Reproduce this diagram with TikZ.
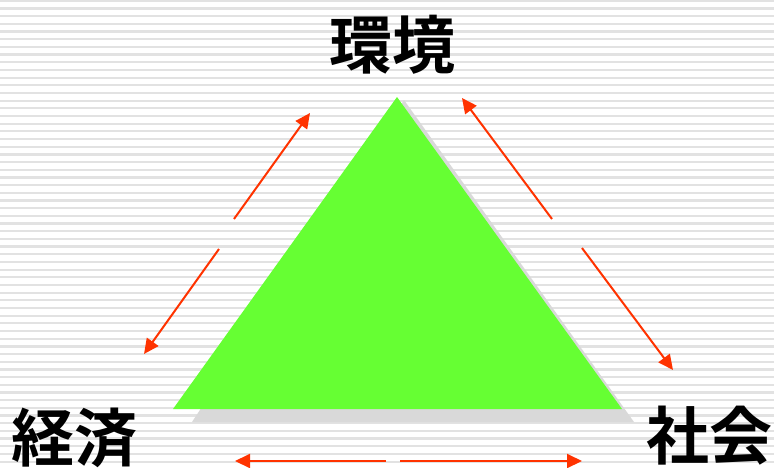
\documentclass[tikz,border=0pt]{standalone}
\usepackage{fontspec}
\newfontfamily\cjk{Noto Sans CJK JP}[BoldFont={Noto Sans CJK JP Bold}]
\usetikzlibrary{arrows.meta}
\definecolor{tri}{HTML}{66FF33}
\definecolor{shad}{HTML}{D9D9D9}
\definecolor{arr}{HTML}{FF3300}
\definecolor{stripe}{HTML}{E2E2E2}
\begin{document}
\begin{tikzpicture}[x=1pt,y=-1pt,
  arrowline/.style={draw=arr,line width=2pt,-{Triangle[length=15pt,width=14pt]}},
  lbl/.style={font=\cjk\bfseries\fontsize{63}{63}\selectfont,inner sep=0pt}]
\useasboundingbox (0,0) rectangle (774,467);
\fill[white] (0,0) rectangle (774,467);
\foreach \i in {0,...,60} {
  \fill[stripe] (0,{0.7+7.68*\i-1}) rectangle (774,{0.7+7.68*\i+1.2});
}
% shadow and triangle
\fill[shad] (404,100) -- (634,422) -- (192,422) -- cycle;
\fill[tri] (397,97) -- (622,409) -- (173,409) -- cycle;
% labels
\node[lbl] (env) at (392,45) {環境};
\node[lbl] (eco) at (75,438) {経済};
\node[lbl] (soc) at (709,436) {社会};
% arrow endpoints
\coordinate (a1s) at (234,219); \coordinate (a1e) at (310,113);
\coordinate (a2s) at (219,249); \coordinate (a2e) at (144,354);
\coordinate (b1s) at (552,219); \coordinate (b1e) at (462,98);
\coordinate (b2s) at (582,248); \coordinate (b2e) at (673,370);
\coordinate (c1s) at (386,461); \coordinate (c1e) at (235,461);
\coordinate (c2s) at (400,461); \coordinate (c2e) at (582,461);
\draw[arrowline] (a1s) -- (a1e);
\draw[arrowline] (a2s) -- (a2e);
\draw[arrowline] (b1s) -- (b1e);
\draw[arrowline] (b2s) -- (b2e);
\draw[arrowline] (c1s) -- (c1e);
\draw[arrowline] (c2s) -- (c2e);
\end{tikzpicture}
\end{document}
